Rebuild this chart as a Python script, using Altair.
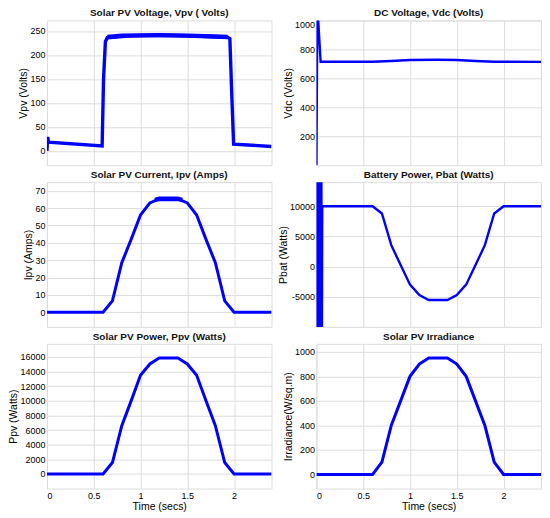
import altair as alt
import pandas as pd

FONT = "Liberation Sans"
BLUE = "#0000ff"
TXT = "#111111"

time_ticks = [0, 0.5, 1, 1.5, 2]

# Solar PV Voltage
vpv_t = [0, 0.008, 0.012, 0.016, 0.59, 0.605, 0.625, 0.645, 0.9, 1.2, 1.5, 1.93, 1.955, 1.975, 1.995, 2.4]
vpv_v = [0, 29, 24, 18, 10, 150, 228, 236, 240, 241, 240, 237, 234, 120, 14, 9]
vpv_band_t = [0.645, 0.8, 1.2, 1.5, 1.8, 1.93]
vpv_band_lo = [233, 236, 237, 236, 234, 233]
vpv_band_hi = [242, 245, 246, 245, 243, 242]

# DC Voltage
vdc_t = [0, 0.01, 0.045, 0.6, 0.8, 1.0, 1.3, 1.5, 1.7, 1.9, 2.4]
vdc_v = [0, 1100, 715, 715, 720, 727, 728, 727, 720, 715, 714]

# Solar PV Current
ipv_t = [0, 0.6, 0.7, 0.8, 0.9, 1.0, 1.1, 1.2, 1.4, 1.5, 1.6, 1.7, 1.8, 1.9, 2.0, 2.4]
ipv_v = [0, 0, 6.5, 28.5, 42, 56, 63, 65.3, 65.3, 63, 56, 42, 28.5, 6.5, 0, 0]
ipv_band_t = [1.15, 1.2, 1.4, 1.45]
ipv_band_lo = [63.5, 64.0, 64.0, 63.5]
ipv_band_hi = [66.0, 66.7, 66.7, 66.0]

# Battery Power
pbat_t = [0, 0.004, 0.010, 0.016, 0.022, 0.028, 0.034, 0.040, 0.046, 0.052, 0.058, 0.062,
          0.6, 0.7, 0.8, 0.9, 1.0, 1.1, 1.2, 1.4, 1.5, 1.6, 1.7, 1.8, 1.9, 2.0, 2.4]
pbat_v = [0, 20000, -16000, 20000, -16000, 20000, -16000, 20000, -16000, 20000, -16000, 10000,
          10000, 8800, 3550, 250, -3000, -4730, -5540, -5540, -4730, -3000, 250, 3550, 8800, 10000, 10000]

# Solar PV Power
ppv_t = [0, 0.6, 0.7, 0.8, 0.9, 1.0, 1.1, 1.2, 1.4, 1.5, 1.6, 1.7, 1.8, 1.9, 2.0, 2.4]
ppv_v = [0, 0, 1560, 6600, 10000, 13500, 15050, 15850, 15850, 15050, 13500, 10000, 6600, 1560, 0, 0]

# Solar PV Irradiance
irr_t = [0, 0.6, 0.7, 0.8, 0.9, 1.0, 1.1, 1.2, 1.4, 1.5, 1.6, 1.7, 1.8, 1.9, 2.0, 2.4]
irr_v = [0, 0, 100, 400, 600, 800, 900, 950, 950, 900, 800, 600, 400, 100, 0, 0]

W, H = 225, 145


def xenc(bottom):
    kw = dict(values=time_ticks, grid=True, ticks=False, domain=False, labels=bottom,
              labelExpr="'' + datum.value", labelFontSize=9, labelPadding=3,
              titleFontSize=10.5, titleFontWeight="normal", titlePadding=1)
    return alt.X("t:Q", scale=alt.Scale(domain=[0, 2.4], nice=False, zero=False),
                 axis=alt.Axis(**kw), title="Time (secs)" if bottom else "")


def yaxis(ticks, flush):
    return alt.Axis(values=ticks, grid=True, ticks=False, domain=False, labelFlush=flush,
                    labelExpr="'' + datum.value", labelFontSize=9, labelPadding=2,
                    titleFontSize=10.5, titleFontWeight="normal", titlePadding=1)


def panel(title, ytitle, t, v, dom, ticks, width, bottom=False, band=None, flush=False):
    df = pd.DataFrame({"t": t, "v": v})
    y = alt.Y("v:Q", scale=alt.Scale(domain=dom, nice=False, zero=False),
              axis=yaxis(ticks, flush), title=ytitle)
    line = alt.Chart(df).mark_line(color=BLUE, strokeWidth=width, clip=True).encode(
        x=xenc(bottom), y=y)
    layers = [line]
    if band is not None:
        bt, lo, hi = band
        bdf = pd.DataFrame({"t": bt, "lo": lo, "hi": hi})
        area = alt.Chart(bdf).mark_area(color=BLUE, opacity=1, clip=True).encode(
            x=xenc(bottom),
            y=alt.Y("lo:Q", scale=alt.Scale(domain=dom, nice=False, zero=False),
                    axis=yaxis(ticks, flush), title=ytitle),
            y2="hi:Q")
        layers.append(area)
    return alt.layer(*layers).properties(
        width=W, height=H,
        title=alt.TitleParams(title, fontSize=10, fontWeight="bold", offset=2,
                              frame="group", anchor="middle", color=TXT, font=FONT))


p1 = panel("Solar PV Voltage, Vpv ( Volts)", "Vpv (Volts)", vpv_t, vpv_v, [-30, 272],
           [0, 50, 100, 150, 200, 250], 3.4, band=(vpv_band_t, vpv_band_lo, vpv_band_hi))
p2 = panel("DC Voltage, Vdc (Volts)", "Vdc (Volts)", vdc_t, vdc_v, [0, 1000],
           [200, 400, 600, 800, 1000], 2.4, flush=True)
p3 = panel("Solar PV Current, Ipv (Amps)", "Ipv (Amps)", ipv_t, ipv_v, [-8.5, 75],
           [0, 10, 20, 30, 40, 50, 60, 70], 3, band=(ipv_band_t, ipv_band_lo, ipv_band_hi))
p4 = panel("Battery Power, Pbat (Watts)", "Pbat (Watts)", pbat_t, pbat_v, [-10000, 14000],
           [-5000, 0, 5000, 10000], 2.4)
p5 = panel("Solar PV Power, Ppv (Watts)", "Ppv (Watts)", ppv_t, ppv_v, [-2000, 17800],
           [0, 2000, 4000, 6000, 8000, 10000, 12000, 14000, 16000], 3, bottom=True)
p6 = panel("Solar PV Irradiance", "Irradiance(W/sq.m)", irr_t, irr_v, [-115, 1065],
           [0, 200, 400, 600, 800, 1000], 3, bottom=True)

chart = alt.concat(
    p1, p2, p3, p4, p5, p6, columns=2, spacing={"row": 17, "column": 45}, bounds="flush",
).properties(
    padding={"left": 0, "top": -1, "right": 0, "bottom": 0}
).configure_view(
    stroke="#7a7a7a", strokeWidth=1
).configure_axis(
    gridColor="#d2d2d2", gridWidth=1, labelColor=TXT, titleColor=TXT,
    labelFont=FONT, titleFont=FONT
).configure(background="white")

chart.save("out.html", embed_options={"renderer": "svg", "actions": False})
